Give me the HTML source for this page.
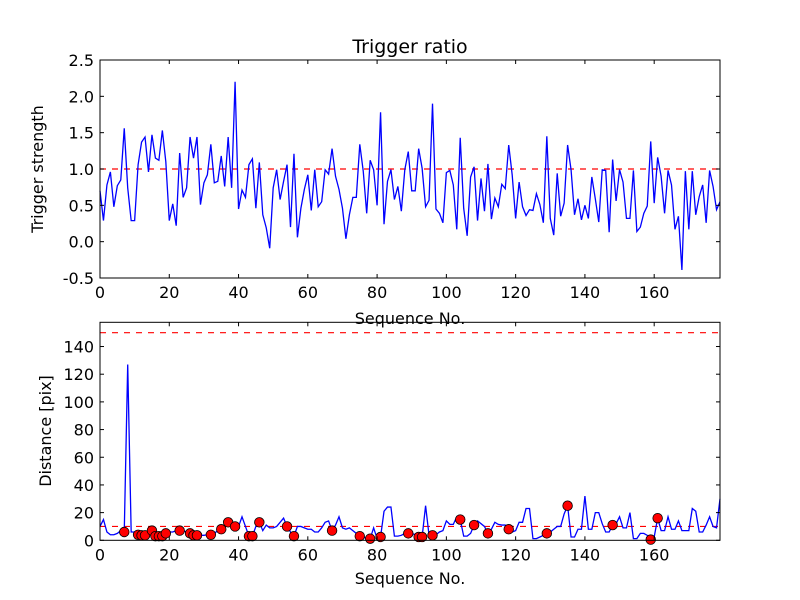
<!DOCTYPE html>
<html><head><meta charset="utf-8">
<style>
html,body{margin:0;padding:0;background:#fff;}
svg{display:block;font-family:"DejaVu Sans","Liberation Sans",sans-serif;}
</style></head>
<body>
<svg id="chart" width="800" height="600" viewBox="0 0 800 600" xmlns="http://www.w3.org/2000/svg">
<rect x="0" y="0" width="800" height="600" fill="#fff"/>
</svg>
<script>
const ratioValues = [
0.7,0.29,0.78,0.96,0.48,0.77,0.85,1.56,0.74,0.29,
0.29,1.06,1.37,1.44,0.96,1.47,1.15,1.12,1.53,1.1,
0.29,0.52,0.22,1.22,0.61,0.74,1.44,1.15,1.44,0.51,
0.81,0.92,1.34,0.81,0.83,1.18,0.76,1.44,0.74,2.2,
0.45,0.71,0.61,1.06,1.14,0.46,1.09,0.37,0.19,-0.09,
0.74,0.99,0.58,0.83,1.06,0.2,1.21,0.06,0.46,0.72,
0.92,0.43,0.99,0.48,0.55,0.99,0.93,1.28,0.9,0.72,
0.46,0.04,0.37,0.61,0.61,1.34,0.97,0.39,1.12,0.99,
0.5,1.78,0.24,0.83,0.99,0.58,0.76,0.42,0.99,1.24,
0.7,0.7,1.28,1.01,0.48,0.57,1.9,0.45,0.39,0.26,
0.95,0.98,0.78,0.17,1.43,0.46,0.08,0.89,1.03,0.29,
0.87,0.42,1.07,0.31,0.6,0.48,0.79,0.73,1.33,0.92,
0.32,0.82,0.48,0.36,0.44,0.43,0.66,0.51,0.26,1.45,
0.32,0.09,0.94,0.35,0.53,1.33,0.99,0.37,0.59,0.3,
0.5,0.32,0.89,0.59,0.27,0.99,0.98,0.13,1.13,0.56,
0.99,0.82,0.32,0.32,0.98,0.14,0.2,0.39,0.49,1.38,
0.53,1.16,0.9,0.39,0.98,0.78,0.17,0.35,-0.39,0.97,
0.17,0.97,0.37,0.62,0.78,0.26,0.98,0.76,0.44,0.55];
const distanceValues = [
10,15,6,4,4,5,7,6,127,6,
6,4,3.6,3.6,6,7,3,3,3,5,
6,6,7,7,7,6,5,3.6,3.6,3.6,
3.6,4,4,5,7,8,11,13,12,10,
10,17,10,3,3,10,13,7,11,9,
9,10,13,16,10,6,3,10,10,9,
8,8,6,6,9,13,14,7,11,17,
9,8,9,7,5,3,2.4,1.2,1.2,9,
1.2,2.4,21,24,24,3,3,3.6,5,5,
5,4,2.4,2.4,25,3.6,3.6,4,6,7,
14,11.5,11.5,17,15,3,3,5,11,14,
12,10,5,8,13,11.5,11,11,8,6,
7,13,13,23,23,1.2,1.2,2.4,3.6,5,
6,8,10,10,19,25,2.4,2.4,8,8,
32,8,8,20,20,12,6,6,11,12,
17,9,9,20,1.2,1.2,5,5,3.6,0.5,
2.4,16,7,7,17,8,8,14,7,7,
7,23,21,6,6,11,17,10,9,30];
const ratioThreshold = 1.0;
const distanceThreshold = 10;
const distanceLimit = 150;
const xTickLabels = [0,20,40,60,80,100,120,140,160];
const ratioTickLabels = ["-0.5","0.0","0.5","1.0","1.5","2.0","2.5"];
const distanceTickLabels = ["0","20","40","60","80","100","120","140"];

const NS = "http://www.w3.org/2000/svg";
const svgEl = document.getElementById('chart');
function mk(tag, attrs, parent){
  const e = document.createElementNS(NS, tag);
  for (const k in attrs) e.setAttribute(k, attrs[k]);
  (parent||svgEl).appendChild(e);
  return e;
}
const PL = 100, PR = 720;
const xMax = ratioValues.length - 1;
function xs(v){ return PL + v/xMax*(PR-PL); }

function axes(t, b, yMin, yMax, yTicks, name){
  const ys = v => b - (v-yMin)/(yMax-yMin)*(b-t);
  const g = mk('g', {});
  
  
  return {g:g, ys:ys, t:t, b:b, yTicks:yTicks};
}
function frame(ax, name){
  const g = ax.g, ys = ax.ys, t0 = ax.t, b0 = ax.b;
  const box = mk('rect', {x:PL, y:t0, width:PR-PL, height:b0-t0, fill:'none', stroke:'#000', 'stroke-width':1}, g);
  
  
  xTickLabels.forEach(v=>{
    const x = xs(v);
    mk('line',{x1:x,x2:x,y1:b0,y2:b0-4,stroke:'#000'},g);
    mk('line',{x1:x,x2:x,y1:t0,y2:t0+4,stroke:'#000'},g);
    const t = mk('text',{x:x,y:b0+20,'font-size':16,'text-anchor':'middle',fill:'#000'},g);
    t.textContent = v;
    
    
  });
  ax.yTicks.forEach(s=>{
    const y = ys(parseFloat(s));
    mk('line',{x1:PL,x2:PL+4,y1:y,y2:y,stroke:'#000'},g);
    mk('line',{x1:PR,x2:PR-4,y1:y,y2:y,stroke:'#000'},g);
    const t = mk('text',{x:PL-6,y:y+6,'font-size':16,'text-anchor':'end',fill:'#000'},g);
    t.textContent = s;
    
    
  });
}
function hline(ax, v, name){
  const y = ax.ys(v);
  const l = mk('line',{x1:PL,x2:PR,y1:y,y2:y,stroke:'#f00','stroke-width':1.2,'stroke-dasharray':'6,6'},ax.g);
  
  
}
function series(ax, vals, name){
  const pts = vals.map((v,i)=>xs(i).toFixed(2)+','+ax.ys(v).toFixed(2)).join(' ');
  const p = mk('polyline',{points:pts,fill:'none',stroke:'#00f','stroke-width':1.3},ax.g);
  
  
}

const topAx = axes(60, 278, -0.5, 2.5, ratioTickLabels, 'trigger-ratio-axes');
hline(topAx, ratioThreshold, 'ratio-threshold-line');
series(topAx, ratioValues, 'trigger-strength-line');
frame(topAx, 'top');

const botAx = axes(322.3, 540.3, 0, 157.5, distanceTickLabels, 'distance-axes');
hline(botAx, distanceLimit, 'distance-limit-line');
hline(botAx, distanceThreshold, 'distance-threshold-line');
series(botAx, distanceValues, 'distance-line');
distanceValues.forEach((v,i)=>{
  if (ratioValues[i] > ratioThreshold){
    const c = mk('circle',{cx:xs(i),cy:botAx.ys(v),r:4.8,fill:'#f00',stroke:'#000','stroke-width':0.8},botAx.g);
    
    
  }
});
frame(botAx, 'bottom');

function label(txt, x, y, size, rot, name){
  const t = mk('text',{x:x,y:y,'font-size':size,'text-anchor':'middle',fill:'#000'});
  if (rot) t.setAttribute('transform','rotate(-90 '+x+' '+y+')');
  t.textContent = txt;
  
  
}
label('Trigger ratio', 410, 53, 19, false, 'chart-title');
label('Sequence No.', 410, 324, 16, false, 'top-x-axis-title');
label('Trigger strength', 43, 169, 16, true, 'top-y-axis-title');
label('Sequence No.', 410, 584, 16, false, 'bottom-x-axis-title');
label('Distance [pix]', 51, 431, 16, true, 'bottom-y-axis-title');
</script>
</body></html>
